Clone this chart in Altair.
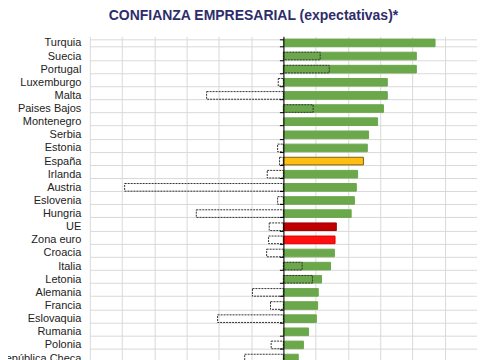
import altair as alt
import pandas as pd

countries = ["Turquia", "Suecia", "Portugal", "Luxemburgo", "Malta", "Paises Bajos",
             "Montenegro", "Serbia", "Estonia", "España", "Irlanda", "Austria",
             "Eslovenia", "Hungria", "UE", "Zona euro", "Croacia", "Italia", "Letonia",
             "Alemania", "Francia", "Eslovaquia", "Rumania", "Polonia", "República Checa"]
current = [23.5, 20.6, 20.6, 16.1, 16.1, 15.5, 14.6, 13.2, 13.0, 12.4, 11.5, 11.3,
           11.0, 10.5, 8.2, 8.0, 7.9, 7.3, 5.9, 5.4, 5.3, 5.1, 3.9, 3.1, 2.3]
previous = [None, 5.7, 7.1, -0.8, -11.9, 4.6, None, None, -0.9, -0.6, -2.5, -24.6,
            -0.9, -13.5, -2.2, -2.3, -2.6, 2.9, 4.5, -4.8, -2.0, -10.2, None, -1.9, -6.0]
groups = ["País"] * 9 + ["España"] + ["País"] * 4 + ["UE", "Zona euro"] + ["País"] * 9

group_domain = ["País", "España", "UE", "Zona euro"]
fill_range = ["#6BA74B", "#FFBF10", "#C00000", "#FF1010"]
stroke_range = ["#6BA74B", "#7F6010", "#A00000", "#E00000"]

df = pd.DataFrame({"pais": countries, "actual": current, "anterior": previous, "grupo": groups})

yscale = alt.Scale(paddingInner=0.42, paddingOuter=0.21)
xscale = alt.Scale(domain=[-30, 30], nice=False, zero=False)
grid_color = "#D9D9D9"
x_axis = alt.Axis(title=None, labels=False, ticks=False, domain=False, grid=True,
                  values=list(range(-30, 31, 5)), gridColor=grid_color)

base = alt.Chart(df)

bars = base.mark_bar(strokeWidth=1).encode(
    x=alt.X("actual:Q", scale=xscale, axis=x_axis),
    y=alt.Y("pais:N", sort=countries, scale=yscale,
            axis=alt.Axis(title=None, ticks=False, domain=False, grid=True, gridColor=grid_color,
                          tickBand="extent", labelFontSize=11, labelFont="Liberation Sans",
                          labelColor="#222222", labelPadding=9)),
    color=alt.Color("grupo:N", scale=alt.Scale(domain=group_domain, range=fill_range), legend=None),
    stroke=alt.Stroke("grupo:N", scale=alt.Scale(domain=group_domain, range=stroke_range), legend=None),
)

prev = base.transform_filter("isValid(datum.anterior)").mark_bar(
    fillOpacity=0, stroke="#333333", strokeDash=[2, 1], strokeWidth=1
).encode(
    x=alt.X("anterior:Q", scale=xscale, axis=x_axis),
    y=alt.Y("pais:N", sort=countries, scale=yscale,
            axis=alt.Axis(title=None, orient="left", offset=-194, labels=False, ticks=True,
                          tickSize=4, tickColor="black", domain=True, domainColor="black",
                          grid=False, tickBand="extent", zindex=1)),
)

chart = alt.layer(bars, prev).resolve_axis(y="independent").properties(
    width=388, height=329,
    title=alt.TitleParams("CONFIANZA EMPRESARIAL (expectativas)*", fontSize=14,
                          font="Liberation Sans", fontWeight="bold", color="#2E2D6B",
                          anchor="middle", dx=-30, offset=7),
    autosize=alt.AutoSizeParams(type="none"),
    padding={"left": 82, "top": 28, "right": 0, "bottom": 0},
).configure_view(stroke=None)

chart.save("out.html", embed_options={"renderer": "svg", "actions": False})
